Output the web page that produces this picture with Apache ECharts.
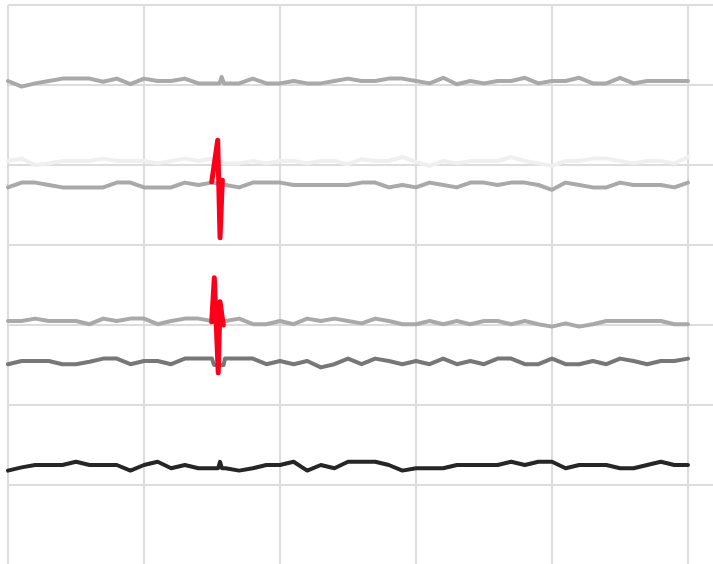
<!DOCTYPE html>
<html>
<head>
<meta charset="utf-8">
<script src="https://cdn.jsdelivr.net/npm/echarts@6/dist/echarts.min.js"></script>
<style>html,body{margin:0;padding:0;background:#fff;overflow:hidden;width:713px;height:564px}#c{width:840px;height:580px}</style>
</head>
<body>
<div id="c"></div>
<script>
// sample positions 0..50, one value per sample
var trace1 = [60.5,59.8,60.2,60.5,60.8,60.8,60.8,60.4,60.8,60.1,60.8,60.5,60.5,60.8,60.2,60.2,60.2,60.2,60.8,60.2,60.2,60.5,60.2,60.2,60.5,60.8,60.5,60.5,60.8,60.8,60.5,60.2,60.9,60.1,60.5,60.2,60.5,60.5,60.9,60.2,60.5,60.5,60.9,60.2,60.2,60.9,60.2,60.5,60.5,60.5,60.5];
var trace2 = [50.5,50.8,50.0,50.2,50.5,50.5,50.5,50.8,50.5,50.5,50.5,50.2,50.5,50.8,50.5,50.8,50.2,50.2,50.5,50.2,50.5,50.5,50.2,50.5,50.5,50.1,50.7,50.5,50.5,51.0,50.4,49.9,50.5,50.2,50.5,50.5,50.5,51.0,50.5,50.2,49.9,50.5,50.5,50.8,50.8,50.5,50.2,50.5,50.5,50.2,51.0];
var trace3 = [47.2,47.8,47.8,47.5,47.2,47.2,47.2,47.2,47.8,47.8,47.2,47.2,47.2,47.8,47.5,47.8,47.5,47.2,47.8,47.8,47.8,47.5,47.5,47.5,47.5,47.5,47.8,47.8,47.2,47.5,47.2,47.8,47.5,47.2,47.8,47.8,47.5,47.8,47.8,47.5,46.9,47.8,47.5,47.2,47.2,47.8,47.5,47.5,47.5,47.2,47.8];
var trace4 = [30.5,30.5,30.8,30.5,30.5,30.5,30.1,30.8,30.5,30.8,30.8,30.1,30.5,30.8,30.8,30.5,30.5,30.8,30.1,30.1,30.5,30.1,30.8,30.5,30.8,30.5,30.2,30.8,30.5,30.1,30.1,30.5,30.1,30.5,30.1,30.5,30.5,30.1,30.5,30.1,29.8,30.2,29.8,30.1,30.5,30.5,30.5,30.5,30.5,30.1,30.1];
var trace5 = [25.1,25.5,25.5,25.5,25.1,25.1,25.4,25.8,25.8,25.1,25.5,25.5,25.1,25.8,25.8,25.8,25.8,25.8,25.8,25.1,25.5,25.1,25.5,24.7,25.1,25.8,25.1,25.8,25.5,25.1,25.5,25.1,25.8,25.1,25.5,25.1,25.8,25.8,25.1,25.1,25.8,25.1,25.1,25.5,25.1,25.8,25.5,25.1,25.5,25.5,25.8];
var trace6 = [11.8,12.2,12.5,12.5,12.5,12.9,12.5,12.5,12.5,11.8,12.5,12.9,12.1,12.5,12.1,12.1,12.1,11.8,12.1,12.5,12.5,12.9,11.8,12.5,12.1,12.9,12.9,12.9,12.5,11.8,12.1,12.1,12.1,12.5,12.5,12.5,12.5,12.9,12.5,12.9,12.9,12.1,12.5,12.5,12.5,12.1,12.1,12.5,12.9,12.5,12.5];

// fine detail between samples 15 and 16: [position, value]
var detail1 = [[15.55,60.2],[15.71,61.0],[15.88,60.2]];
var detail5 = [[15.05,25.8],[15.15,25.0],[15.85,25.0],[15.95,25.8]];
var detail6 = [[15.45,12.1],[15.59,12.9],[15.73,12.1]];

// highlighted spikes: [position, value]
var spikeA = [[14.98,47.9],[15.42,53.1],[15.59,40.9],[15.76,48.1]];
var spikeB = [[14.98,30.4],[15.17,35.9],[15.46,24.0],[15.59,32.9],[15.83,30.0]];

var colors = ['#a9a9a9','#efefef','#a9a9a9','#a9a9a9','#777777','#262626'];
var spikeColor = '#fb0018';

function build(vals, extra) {
  var pts = vals.map(function (v, i) { return [i, v]; });
  if (extra) pts = pts.concat(extra);
  pts.sort(function (a, b) { return a[0] - b[0]; });
  return pts;
}

var traces = [
  build(trace1, detail1), build(trace2), build(trace3),
  build(trace4), build(trace5, detail5), build(trace6, detail6)
];

var series = traces.map(function (d, k) {
  return {
    type: 'line', data: d, showSymbol: false, silent: true, animation: false,
    lineStyle: { color: colors[k], width: 4, cap: 'round', join: 'round' },
    z: 2
  };
});
[spikeA, spikeB].forEach(function (d) {
  series.push({
    type: 'line', data: d, showSymbol: false, silent: true, animation: false,
    lineStyle: { color: spikeColor, width: 5, cap: 'round', join: 'round' },
    z: 3
  });
});

var chart = echarts.init(document.getElementById('c'), null, { renderer: 'canvas' });
chart.setOption({
  backgroundColor: '#ffffff',
  animation: false,
  grid: { left: 8, top: 5, width: 816, height: 560, containLabel: false },
  xAxis: {
    type: 'value', min: 0, max: 60, interval: 10,
    axisLine: { show: false }, axisTick: { show: false }, axisLabel: { show: false },
    splitLine: { show: true, lineStyle: { color: '#dcdcdc', width: 2 } }
  },
  yAxis: {
    type: 'value', min: 0, max: 70, interval: 10,
    axisLine: { show: false }, axisTick: { show: false }, axisLabel: { show: false },
    splitLine: { show: true, lineStyle: { color: '#dcdcdc', width: 2 } }
  },
  series: series
});
</script>
</body>
</html>
